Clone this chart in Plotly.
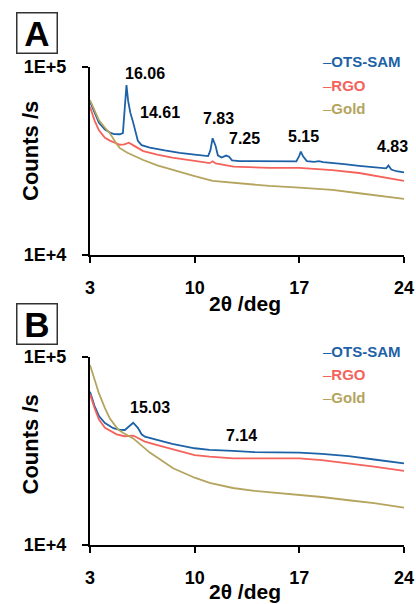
import plotly.graph_objects as go

# ---------------- data ----------------
# Panel A
a_ots_x = [3.0, 3.3, 3.6, 4.0, 4.33, 4.6, 5.0, 5.2, 5.3, 5.44, 5.55, 5.7, 5.85, 6.0, 6.2, 6.45, 7.0, 8.0, 9.0, 10.0,
           10.9, 11.05, 11.2, 11.4, 11.55, 11.8, 12.1, 12.3, 12.5, 13.0, 14.0, 15.0, 16.0, 16.8, 17.0, 17.1, 17.25,
           17.5, 18.0, 18.3, 18.6, 19.0, 20.0, 21.0, 22.0, 22.8, 22.96, 23.15, 23.5, 24.0]
a_ots_y = [65300, 57000, 50500, 46500, 44800, 44000, 43900, 44500, 55000, 80200, 66000, 57000, 52000, 46000, 40500,
           38400, 37300, 36000, 34900, 34200, 33600, 36000, 41800, 38000, 33900, 33000, 33800, 33300, 31900, 31600,
           31500, 31500, 31500, 31500, 33800, 35500, 33500, 31600, 31300, 31600, 31200, 30900, 30400, 29800, 29300,
           28900, 29900, 28500, 27900, 27500]

a_rgo_x = [3.0, 3.3, 3.6, 4.0, 4.33, 4.78, 5.0, 5.3, 5.6, 5.9, 6.56, 7.5, 8.5, 10.0, 11.0, 11.2, 11.4, 12.6, 14.0,
           15.0, 17.0, 19.2, 21.0, 22.5, 24.0]
a_rgo_y = [61500, 52000, 46000, 42000, 40600, 39200, 38600, 38800, 39600, 38300, 35700, 34200, 33000, 31700, 30800,
           31500, 30700, 29500, 29200, 29100, 29100, 28300, 27300, 26100, 24800]

a_gold_x = [3.0, 3.3, 3.6, 4.0, 4.33, 4.78, 5.0, 5.5, 6.0, 6.56, 7.5, 8.56, 10.0, 11.2, 13.0, 15.0, 17.0, 19.2,
            21.0, 22.5, 24.0]
a_gold_y = [66700, 58500, 52000, 47500, 44400, 39000, 37000, 35000, 33500, 32000, 30000, 28300, 26300, 24800, 24000,
            23300, 22800, 22200, 21300, 20600, 19900]

# Panel B
b_ots_x = [3.0, 3.3, 3.6, 4.0, 4.56, 5.0, 5.33, 5.6, 5.89, 6.2, 6.45, 6.67, 7.5, 8.5, 10.0, 11.0, 12.56, 14.0, 15.5,
           17.0, 18.5, 20.3, 22.0, 24.0]
b_ots_y = [65300, 55000, 48500, 44500, 41800, 41000, 40900, 42800, 44700, 42000, 38800, 37700, 36200, 34500, 32700,
           32100, 31700, 31200, 31100, 31000, 30500, 29700, 28500, 27200]

b_rgo_x = [3.0, 3.3, 3.6, 4.0, 4.78, 5.3, 5.89, 6.2, 6.67, 7.5, 8.5, 10.0, 11.0, 12.56, 14.0, 15.5, 17.0, 18.5, 20.3,
           22.0, 24.0]
b_rgo_y = [63500, 53500, 46500, 42000, 38800, 37900, 38200, 37000, 35500, 34000, 32300, 30100, 29500, 28900, 28900,
           29000, 28900, 28300, 27200, 26100, 24800]

b_gold_x = [3.0, 3.3, 3.6, 4.0, 4.33, 4.87, 5.2, 5.89, 7.0, 8.56, 10.0, 11.0, 12.56, 14.0, 15.5, 17.0, 18.5, 20.3,
            22.0, 24.0]
b_gold_y = [90700, 76000, 64000, 53500, 47000, 41200, 39500, 36900, 31000, 25600, 22800, 21400, 20100, 19400, 18900,
            18500, 18000, 17300, 16700, 15800]

series_names = ["OTS-SAM", "RGO", "Gold"]
x_tick_vals = [3, 10, 17, 24]
y_tick_vals = [1e4, 1e5]
y_tick_text = ["1E+4", "1E+5"]

a_peak_labels = ["16.06", "14.61", "7.83", "7.25", "5.15", "4.83"]
b_peak_labels = ["15.03", "7.14"]

# ---------------- style ----------------
colors = ["#1d62a6", "#f4625b", "#b4a45e"]
FONT = "Liberation Sans, Arial, sans-serif"
W, H = 416, 604

def px_x(p):
    return p / W

def px_y(p):
    return 1 - p / H

fig = go.Figure()

panels = [
    ("x", "y", [(a_ots_x, a_ots_y), (a_rgo_x, a_rgo_y), (a_gold_x, a_gold_y)]),
    ("x2", "y2", [(b_ots_x, b_ots_y), (b_rgo_x, b_rgo_y), (b_gold_x, b_gold_y)]),
]
for xa, ya, data in panels:
    for (xs, ys), name, c in zip(data, series_names, colors):
        fig.add_trace(go.Scatter(x=xs, y=ys, mode="lines", name=name, xaxis=xa, yaxis=ya,
                                 line=dict(color=c, width=1.8), showlegend=False))

axis_common = dict(showline=True, linecolor="black", linewidth=2, ticks="outside", ticklen=6, tickwidth=2,
                   tickcolor="black", showgrid=False, zeroline=False, automargin=False,
                   tickfont=dict(family=FONT, size=18, color="black", weight="bold"))

xdom = [px_x(90), px_x(404)]
fig.update_layout(
    width=W, height=H, autosize=False,
    margin=dict(l=0, r=0, t=0, b=0),
    paper_bgcolor="white", plot_bgcolor="white",
    xaxis=dict(domain=xdom, range=[3, 24], tickvals=x_tick_vals, anchor="y", ticklabelstandoff=9, **axis_common),
    yaxis=dict(domain=[px_y(255), px_y(67)], type="log", range=[4, 5], tickvals=y_tick_vals, ticktext=y_tick_text,
               anchor="x", ticklabelstandoff=12, **axis_common),
    xaxis2=dict(domain=xdom, range=[3, 24], tickvals=x_tick_vals, anchor="y2", ticklabelstandoff=9, **axis_common),
    yaxis2=dict(domain=[px_y(545), px_y(357)], type="log", range=[4, 5], tickvals=y_tick_vals, ticktext=y_tick_text,
                anchor="x2", ticklabelstandoff=12, **axis_common),
)

ann = []
# peak labels (positions in deg, log10 counts)
a_label_pos = [(6.67, 4.963), (7.67, 4.757), (11.6, 4.727), (13.33, 4.621), (17.27, 4.63), (23.2, 4.576)]
b_label_pos = [(6.98, 4.729), (13.13, 4.58)]
for txt, (lx, ly) in zip(a_peak_labels, a_label_pos):
    ann.append(dict(text=txt, x=lx, y=ly, xref="x", yref="y", showarrow=False,
                    font=dict(family=FONT, size=16, color="black", weight="bold")))
for txt, (lx, ly) in zip(b_peak_labels, b_label_pos):
    ann.append(dict(text=txt, x=lx, y=ly, xref="x2", yref="y2", showarrow=False,
                    font=dict(family=FONT, size=16, color="black", weight="bold")))

# legends
for ys in ([62, 85.5, 108.5], [351, 374.5, 397.5]):
    for name, c, yy in zip(series_names, colors, ys):
        ann.append(dict(text="<span style='font-weight:normal'>–</span>" + name, x=px_x(321), y=px_y(yy),
                        xref="paper", yref="paper", xanchor="left", yanchor="middle", showarrow=False,
                        font=dict(family=FONT, size=15, color=c, weight="bold")))

# panel letters
for letter, cy in (("A", 33.5), ("B", 324)):
    ann.append(dict(text=letter, x=px_x(36.5), y=px_y(cy), xref="paper", yref="paper", showarrow=False,
                    xanchor="center", yanchor="middle", width=39, height=39, borderpad=0,
                    bordercolor="#333333", borderwidth=1.5, bgcolor="white",
                    font=dict(family=FONT, size=35, color="black", weight="bold")))

# axis titles
for cy in (151, 444.5):
    ann.append(dict(text="Counts /s", x=px_x(30), y=px_y(cy), xref="paper", yref="paper", showarrow=False,
                    textangle=-90, xanchor="center", yanchor="middle",
                    font=dict(family=FONT, size=22, color="black", weight="bold")))
for cy in (303, 591):
    ann.append(dict(text="2θ /deg", x=px_x(245), y=px_y(cy), xref="paper", yref="paper", showarrow=False,
                    xanchor="center", yanchor="middle",
                    font=dict(family=FONT, size=21, color="black", weight="bold")))

fig.update_layout(annotations=ann)
fig.write_html("out.html", config={"displayModeBar": False},
               post_script="document.body.style.margin='0';document.body.style.overflow='hidden';")
